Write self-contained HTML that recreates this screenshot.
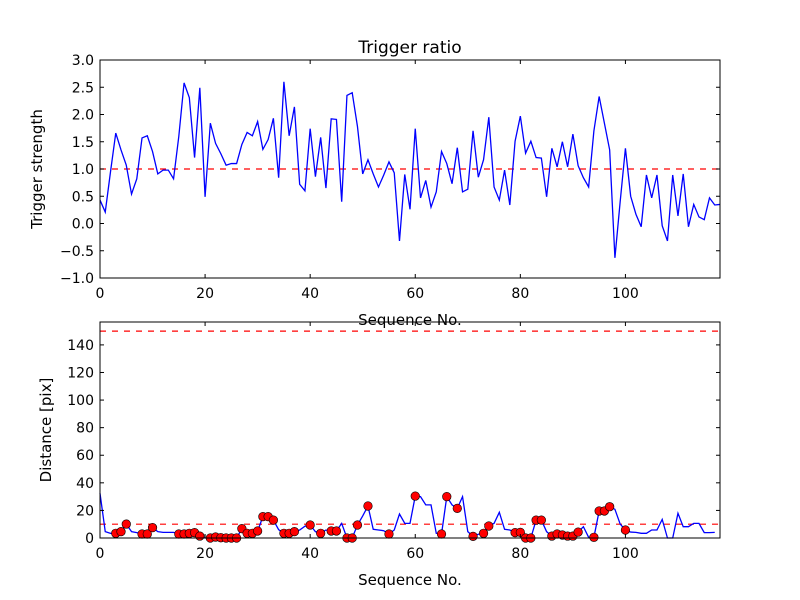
<!DOCTYPE html>
<html><head><meta charset="utf-8"><style>
body{margin:0;background:#fff;}
svg{display:block;font-family:"DejaVu Sans","Liberation Sans",sans-serif;}
</style></head><body>
<svg id="chart" width="800" height="600" viewBox="0 0 800 600" xmlns="http://www.w3.org/2000/svg">
<rect width="800" height="600" fill="#fff"/>
</svg>
<script>
const strength = [0.43,0.21,0.95,1.66,1.35,1.07,0.54,0.82,1.57,1.61,1.32,0.91,0.98,0.98,0.82,1.6,2.58,2.31,1.21,2.49,0.49,1.84,1.47,1.28,1.07,1.10,1.10,1.45,1.67,1.61,1.87,1.36,1.54,1.93,0.84,2.60,1.61,2.14,0.72,0.60,1.74,0.86,1.58,0.65,1.92,1.91,0.40,2.35,2.40,1.78,0.91,1.17,0.91,0.67,0.89,1.13,0.93,-0.32,0.90,0.26,1.74,0.47,0.79,0.30,0.58,1.32,1.10,0.73,1.39,0.58,0.63,1.70,0.85,1.17,1.95,0.67,0.43,0.98,0.34,1.51,1.97,1.29,1.51,1.21,1.20,0.49,1.38,1.04,1.50,1.04,1.64,1.06,0.84,0.67,1.70,2.33,1.84,1.35,-0.63,0.40,1.38,0.50,0.17,-0.06,0.89,0.47,0.89,-0.04,-0.32,0.89,0.14,0.91,-0.06,0.35,0.12,0.07,0.47,0.34,0.35];
const distance = [32.4,4.6,3.4,3.4,4.6,10.1,4.6,3.9,2.9,2.9,7.5,4.6,4.1,4.1,4.1,2.9,2.9,3.4,3.9,1.4,0,0,0.7,0.2,0,0,0,6.8,3.4,3.4,5.1,15.5,15.5,13,6,3.4,3.4,4.6,5.8,8.5,9.4,4.6,3.4,5.8,5.1,5.1,10.6,0,0,9.4,16,23.2,6.3,5.8,5.3,2.9,5.8,17.4,10.6,10.6,30.4,30,24,24,3.4,2.9,30,24,21.5,30,4.6,1.2,2.7,3.4,8.7,10.6,18.6,6.3,5.8,3.9,4.1,0,0,13,13,4.6,1.4,2.9,2.2,1.4,1.4,4.3,8.2,0.5,0.5,19.6,19.6,22.7,20.8,10.1,5.8,4.3,4.1,3.4,3.4,5.8,5.8,13.5,0,0,17.9,8.2,8.2,10.6,10.6,3.9,3.9,4.1];
const markedIdx = [3,4,5,8,9,10,15,16,17,18,19,21,22,23,24,25,26,27,28,29,30,31,32,33,35,36,37,40,42,44,45,47,48,49,51,55,60,65,66,68,71,73,74,79,80,81,82,83,84,86,87,88,89,90,91,94,95,96,97,100];
const xTicks = [0,20,40,60,80,100];
const topYTicks = [-1.0,-0.5,0.0,0.5,1.0,1.5,2.0,2.5,3.0];
const botYTicks = [0,20,40,60,80,100,120,140];
const topThreshold = 1.0;
const botThresholds = [10,150];

const NS='http://www.w3.org/2000/svg';
const svg=document.getElementById('chart');
function mk(tag,attrs,parent){const e=document.createElementNS(NS,tag);for(const k in attrs)e.setAttribute(k,attrs[k]);(parent||svg).appendChild(e);return e;}
const L=100,R=720,XMAX=118;
const sx=v=>L+(R-L)*v/XMAX;

function panel(top,bot,ymin,ymax,ticks,fmt,name){
  const g=mk('g',{});
  
  
  const sy=v=>bot-(bot-top)*(v-ymin)/(ymax-ymin);
  return {g,sy,top,bot,ticks,fmt};
}
function frame(p,ylabel,yx){
  const g=p.g;
  const box=mk('rect',{x:L,y:p.top,width:R-L,height:p.bot-p.top,fill:'none',stroke:'#000','stroke-width':1},g);
  
  xTicks.forEach(t=>{
    const x=sx(t);
    mk('line',{x1:x,x2:x,y1:p.bot,y2:p.bot-4,stroke:'#000'},g);
    mk('line',{x1:x,x2:x,y1:p.top,y2:p.top+4,stroke:'#000'},g);
    const tx=mk('text',{x:x,y:p.bot+20,'text-anchor':'middle','font-size':14},g);
    tx.textContent=t;
    
  });
  p.ticks.forEach(t=>{
    const y=p.sy(t);
    mk('line',{x1:L,x2:L+4,y1:y,y2:y,stroke:'#000'},g);
    mk('line',{x1:R,x2:R-4,y1:y,y2:y,stroke:'#000'},g);
    const tx=mk('text',{x:L-6,y:y+5,'text-anchor':'end','font-size':14},g);
    tx.textContent=p.fmt(t);
    
  });
  const xl=mk('text',{x:410,y:p.bot+47,'text-anchor':'middle','font-size':15},g);
  xl.textContent='Sequence No.';
  
  const cy=(p.top+p.bot)/2;
  const yl=mk('text',{x:yx,y:cy,'text-anchor':'middle','font-size':15,transform:`rotate(-90 ${yx} ${cy})`},g);
  yl.textContent=ylabel;
  
}
function hline(p,v){
  const l=mk('line',{x1:L,x2:R,y1:p.sy(v),y2:p.sy(v),stroke:'#f00','stroke-width':1.2,'stroke-dasharray':'6,6'},p.g);
  
}
function series(p,vals){
  const d=vals.map((v,i)=>(i?'L':'M')+sx(i).toFixed(2)+','+p.sy(v).toFixed(2)).join('');
  const path=mk('path',{d:d,fill:'none',stroke:'#00f','stroke-width':1.3},p.g);
  
}

const fmtTop=t=>(t<0?'\u2212':'')+Math.abs(t).toFixed(1);
const pt=panel(60,278,-1,3,topYTicks,fmtTop,'trigger-panel');
hline(pt,topThreshold);
series(pt,strength);
frame(pt,'Trigger strength',42);
const title=mk('text',{x:410,y:53,'text-anchor':'middle','font-size':17});
title.textContent='Trigger ratio';



const pb=panel(322,538,0,156.6,botYTicks,t=>String(t),'distance-panel');
botThresholds.forEach(v=>hline(pb,v));
series(pb,distance);
markedIdx.forEach(i=>{
  const c=mk('circle',{cx:sx(i),cy:pb.sy(distance[i]),r:4.3,fill:'#f00',stroke:'#000','stroke-width':0.6},pb.g);
  
  
});
frame(pb,'Distance [pix]',51);
</script>
</body></html>
